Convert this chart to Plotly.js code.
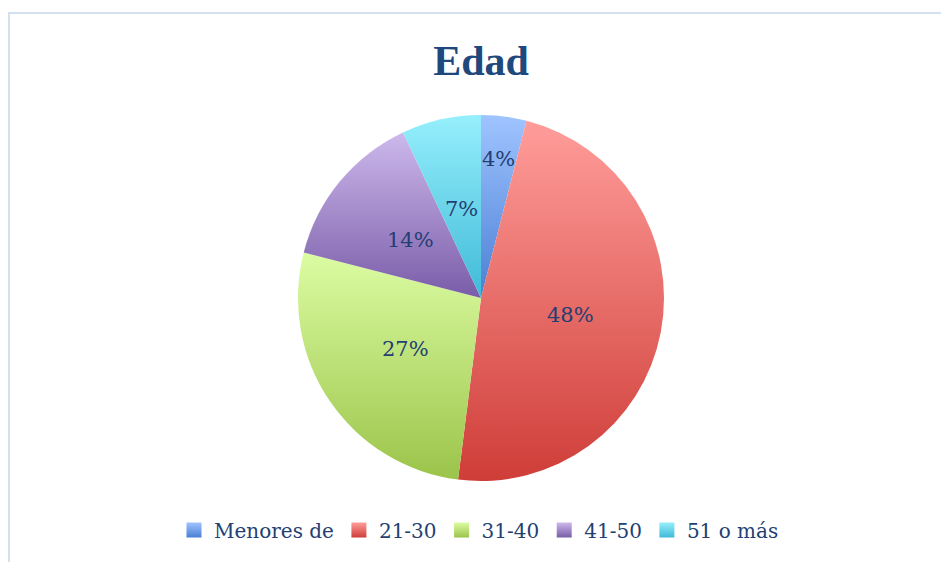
<!DOCTYPE html>
<html><head><meta charset="utf-8">
<script src="https://cdn.plot.ly/plotly-3.0.1.min.js"></script>
<style>
html,body{margin:0;padding:0;background:#fff;}
#frame{position:absolute;left:8px;top:12px;width:933px;height:550px;border-left:2px solid #d3e0f1;border-top:2px solid #d3e0f1;box-sizing:border-box;pointer-events:none;z-index:5;}
#chart{width:941px;height:562px;}
</style></head>
<body>
<div id="frame"></div>
<div id="chart"></div>
<script>
const categories = ["Menores de", "21-30", "31-40", "41-50", "51 o más"];
const values = [4, 48, 27, 14, 7];
const colors = ["#7ea6e8", "#ea6f6c", "#c3e27f", "#a690cb", "#6fd6ec"];
const gradTop = ["#a0c4ff", "#ff9d9a", "#dcfca2", "#cdb9ec", "#96effc"];
const gradBottom = ["#4a7fd4", "#cf3d38", "#9bc44a", "#7a5ca8", "#40bad8"];

const W = 941, H = 562;
const pieLeft = 298, pieTop = 115, pieSize = 366;
const R = pieSize / 2;
const cxPx = pieLeft + R, cyPx = pieTop + R;
const labelFont = {family: "DejaVu Serif, Liberation Serif, serif", size: 21, color: "#233f73"};

const trace = {
  type: "pie",
  labels: categories,
  values: values,
  sort: false,
  direction: "clockwise",
  rotation: 0,
  marker: {colors: colors, line: {width: 0}},
  textinfo: "none",
  domain: {x: [pieLeft / W, (pieLeft + pieSize) / W], y: [1 - (pieTop + pieSize) / H, 1 - pieTop / H]},
  hoverinfo: "label+percent"
};

// percentage labels placed in each slice (Excel best-fit style), derived from values
const total = values.reduce((a, b) => a + b, 0);
const annotations = [];
let cum = 0;
values.forEach((v, i) => {
  const frac = v / total;
  const mid = (cum + frac / 2) * 2 * Math.PI;
  cum += frac;
  const txt = Math.round(frac * 100) + "%";
  const half = Math.PI * frac;
  const estW = (txt.length - 1) * 0.636 * labelFont.size + 0.95 * labelFont.size;
  const need = (estW / 2 + 1) / (R * Math.tan(half));
  const f = Math.min(0.8, Math.max(0.5, need));
  const px = cxPx + f * R * Math.sin(mid);
  const py = cyPx - f * R * Math.cos(mid);
  annotations.push({
    text: txt, x: px / W, y: 1 - py / H, xref: "paper", yref: "paper",
    xanchor: "center", yanchor: "middle", showarrow: false, font: labelFont
  });
});

const layout = {
  width: W, height: H,
  margin: {l: 0, r: 0, t: 0, b: 0},
  paper_bgcolor: "#ffffff",
  title: {text: "<b>Edad</b>", x: 481 / W, xanchor: "center", y: 1 - 60 / H, yanchor: "middle",
          font: {family: "Liberation Serif, DejaVu Serif, serif", size: 42, color: "#1f497d"}},
  showlegend: true,
  legend: {orientation: "h", x: 479 / W, xanchor: "center", y: 1 - 530 / H, yanchor: "middle",
           font: {family: "DejaVu Serif, Liberation Serif, serif", size: 20, color: "#233f73"},
           traceorder: "normal", itemclick: false},
  annotations: annotations
};

Plotly.newPlot("chart", [trace], layout, {displayModeBar: false, staticPlot: true}).then(gd => {
  const NS = "http://www.w3.org/2000/svg";
  const svg = gd.querySelector("svg.main-svg");
  let defs = svg.querySelector("defs");
  if (!defs) { defs = document.createElementNS(NS, "defs"); svg.insertBefore(defs, svg.firstChild); }
  categories.forEach((c, i) => {
    const lg = document.createElementNS(NS, "linearGradient");
    lg.setAttribute("id", "sliceGrad" + i);
    lg.setAttribute("x1", "0"); lg.setAttribute("y1", "0");
    lg.setAttribute("x2", "0"); lg.setAttribute("y2", "1");
    [[0, gradTop[i]], [1, gradBottom[i]]].forEach(([o, col]) => {
      const st = document.createElementNS(NS, "stop");
      st.setAttribute("offset", o);
      st.setAttribute("stop-color", col);
      lg.appendChild(st);
    });
    defs.appendChild(lg);
  });
  gd.querySelectorAll("g.slice").forEach((g, i) => {
    const p = g.querySelector("path.surface");
    if (p) p.style.fill = "url(#sliceGrad" + i + ")";
  });
  gd.querySelectorAll("g.legend g.traces").forEach((g, i) => {
    g.querySelectorAll("path.legendpie").forEach(p => {
      p.style.fill = "url(#sliceGrad" + i + ")";
      const t = p.getAttribute("transform") || "";
      p.setAttribute("transform", t + " scale(1.25)");
    });
  });
});
</script>
</body></html>
